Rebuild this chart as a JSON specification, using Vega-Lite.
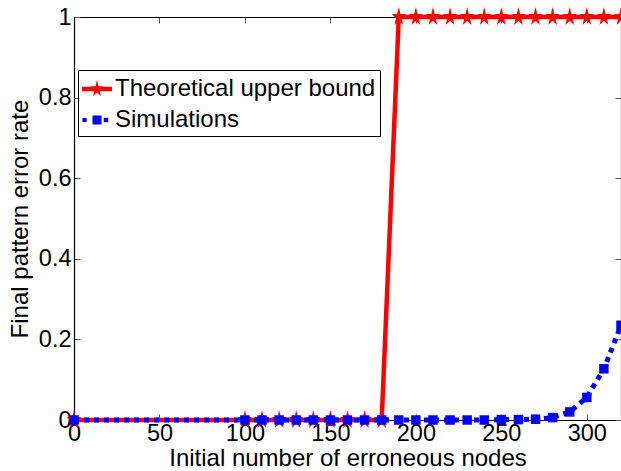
{
  "$schema": "https://vega.github.io/schema/vega-lite/v6.json",
  "width": 547,
  "height": 403,
  "autosize": {"type": "none"},
  "padding": {"left": 74, "top": 17, "right": 0, "bottom": 51},
  "background": "white",
  "config": {
    "font": "Liberation Sans",
    "view": {"stroke": null},
    "axis": {
      "labelFontSize": 23.5, "titleFontSize": 24, "titleFontWeight": "normal",
      "labelColor": "black", "titleColor": "black", "domainColor": "black",
      "domainWidth": 1.2, "tickColor": "#555", "tickWidth": 1, "grid": false,
      "labelFont": "Liberation Sans", "titleFont": "Liberation Sans"
    },
    "legend": {"labelFont": "Liberation Sans"}
  },
  "data": {"values": [
    {"x": 0, "y": 0, "series": "Theoretical upper bound"},
    {"x": 100, "y": 0, "series": "Theoretical upper bound"},
    {"x": 110, "y": 0, "series": "Theoretical upper bound"},
    {"x": 120, "y": 0, "series": "Theoretical upper bound"},
    {"x": 130, "y": 0, "series": "Theoretical upper bound"},
    {"x": 140, "y": 0, "series": "Theoretical upper bound"},
    {"x": 150, "y": 0, "series": "Theoretical upper bound"},
    {"x": 160, "y": 0, "series": "Theoretical upper bound"},
    {"x": 170, "y": 0, "series": "Theoretical upper bound"},
    {"x": 180, "y": 0, "series": "Theoretical upper bound"},
    {"x": 190, "y": 1, "series": "Theoretical upper bound"},
    {"x": 200, "y": 1, "series": "Theoretical upper bound"},
    {"x": 210, "y": 1, "series": "Theoretical upper bound"},
    {"x": 220, "y": 1, "series": "Theoretical upper bound"},
    {"x": 230, "y": 1, "series": "Theoretical upper bound"},
    {"x": 240, "y": 1, "series": "Theoretical upper bound"},
    {"x": 250, "y": 1, "series": "Theoretical upper bound"},
    {"x": 260, "y": 1, "series": "Theoretical upper bound"},
    {"x": 270, "y": 1, "series": "Theoretical upper bound"},
    {"x": 280, "y": 1, "series": "Theoretical upper bound"},
    {"x": 290, "y": 1, "series": "Theoretical upper bound"},
    {"x": 300, "y": 1, "series": "Theoretical upper bound"},
    {"x": 310, "y": 1, "series": "Theoretical upper bound"},
    {"x": 320, "y": 1, "series": "Theoretical upper bound"},
    {"x": 0, "y": 0, "series": "Simulations"},
    {"x": 100, "y": 0, "series": "Simulations"},
    {"x": 110, "y": 0, "series": "Simulations"},
    {"x": 120, "y": 0, "series": "Simulations"},
    {"x": 130, "y": 0, "series": "Simulations"},
    {"x": 140, "y": 0, "series": "Simulations"},
    {"x": 150, "y": 0, "series": "Simulations"},
    {"x": 160, "y": 0, "series": "Simulations"},
    {"x": 170, "y": 0, "series": "Simulations"},
    {"x": 180, "y": 0, "series": "Simulations"},
    {"x": 190, "y": 0, "series": "Simulations"},
    {"x": 200, "y": 0, "series": "Simulations"},
    {"x": 210, "y": 0, "series": "Simulations"},
    {"x": 220, "y": 0, "series": "Simulations"},
    {"x": 230, "y": 0, "series": "Simulations"},
    {"x": 240, "y": 0, "series": "Simulations"},
    {"x": 250, "y": 0.001, "series": "Simulations"},
    {"x": 260, "y": 0.001, "series": "Simulations"},
    {"x": 270, "y": 0.002, "series": "Simulations"},
    {"x": 280, "y": 0.006, "series": "Simulations"},
    {"x": 290, "y": 0.02, "series": "Simulations"},
    {"x": 300, "y": 0.056, "series": "Simulations"},
    {"x": 310, "y": 0.127, "series": "Simulations"},
    {"x": 320, "y": 0.235, "series": "Simulations"}
  ]},
  "resolve": {"axis": {"x": "independent", "y": "independent"}},
  "layer": [
    {
      "transform": [{"filter": "datum.series === 'Theoretical upper bound'"}],
      "mark": {"type": "line", "color": "#ff0000", "strokeWidth": 4.5},
      "encoding": {
        "x": {"field": "x", "type": "quantitative", "scale": {"domain": [0, 320], "nice": false, "zero": false},
              "axis": {"orient": "bottom", "values": [0, 50, 100, 150, 200, 250, 300], "tickSize": -6, "labelPadding": 7,
                       "title": "Initial number of erroneous nodes", "titlePadding": 2, "labelFlush": false, "labelOverlap": false}},
        "y": {"field": "y", "type": "quantitative", "scale": {"domain": [0, 1], "nice": false},
              "axis": {"orient": "left", "values": [0, 0.2, 0.4, 0.6, 0.8, 1], "format": ".1~f", "tickSize": -6, "labelPadding": 9,
                       "title": "Final pattern error rate", "titlePadding": 6, "labelFlush": false, "labelOverlap": false}}
      }
    },
    {
      "transform": [{"filter": "datum.series === 'Theoretical upper bound'"}],
      "mark": {"type": "point", "filled": true, "color": "#ff0000", "opacity": 1, "strokeWidth": 0, "size": 400,
               "shape": "M0,-1L0.169,-0.309L0.713,-0.309L0.272,0.118L0.441,0.809L0,0.382L-0.441,0.809L-0.272,0.118L-0.713,-0.309L-0.169,-0.309Z"},
      "encoding": {
        "x": {"field": "x", "type": "quantitative",
              "axis": {"orient": "top", "values": [0, 50, 100, 150, 200, 250, 300], "tickSize": -6, "labels": false, "title": null}},
        "y": {"field": "y", "type": "quantitative",
              "axis": {"orient": "right", "values": [0, 0.2, 0.4, 0.6, 0.8, 1], "tickSize": -6, "labels": false, "title": null}}
      }
    },
    {
      "transform": [{"filter": "datum.series === 'Simulations'"}],
      "mark": {"type": "line", "color": "#0000ff", "strokeWidth": 5, "strokeDash": [5, 5]},
      "encoding": {
        "x": {"field": "x", "type": "quantitative", "axis": null},
        "y": {"field": "y", "type": "quantitative", "axis": null}
      }
    },
    {
      "transform": [{"filter": "datum.series === 'Simulations'"}],
      "mark": {"type": "point", "filled": true, "color": "#0000ff", "opacity": 1, "strokeWidth": 0, "size": 90, "shape": "square"},
      "encoding": {
        "x": {"field": "x", "type": "quantitative", "axis": null},
        "y": {"field": "y", "type": "quantitative", "axis": null}
      }
    },
    {
      "transform": [{"filter": "datum.x < 0"}],
      "mark": {"type": "point", "filled": true, "opacity": 1, "strokeWidth": 0},
      "encoding": {
        "x": {"field": "x", "type": "quantitative", "axis": null},
        "y": {"field": "y", "type": "quantitative", "axis": null},
        "color": {"field": "series", "type": "nominal",
                  "scale": {"domain": ["Theoretical upper bound", "Simulations"], "range": ["#ff0000", "#0000ff"]},
                  "legend": {"title": null, "orient": "none", "legendX": 4, "legendY": 53, "fillColor": "white", "strokeColor": "black",
                             "padding": 4, "symbolSize": 900, "symbolStrokeWidth": 0, "labelFontSize": 24, "labelColor": "black",
                             "labelOffset": 3, "rowPadding": 4, "cornerRadius": 0, "labelLimit": 0}},
        "shape": {"field": "series", "type": "nominal",
                  "scale": {"domain": ["Theoretical upper bound", "Simulations"],
                            "range": ["M-1,-0.15L1,-0.15L1,0.15L-1,0.15Z M0,-0.6L0.101,-0.185L0.428,-0.185L0.163,0.071L0.265,0.485L0,0.229L-0.265,0.485L-0.163,0.071L-0.428,-0.185L-0.101,-0.185Z",
                                      "M-0.97,-0.14L-0.69,-0.14L-0.69,0.14L-0.97,0.14Z M-0.3,-0.3L0.3,-0.3L0.3,0.3L-0.3,0.3Z M0.45,-0.15L0.75,-0.15L0.75,0.15L0.45,0.15Z"]},
                  "legend": {"title": null, "orient": "none", "legendX": 4, "legendY": 53, "fillColor": "white", "strokeColor": "black",
                             "padding": 4, "symbolSize": 900, "symbolStrokeWidth": 0, "labelFontSize": 24, "labelColor": "black",
                             "labelOffset": 3, "rowPadding": 4, "cornerRadius": 0, "labelLimit": 0}}
      }
    }
  ]
}
